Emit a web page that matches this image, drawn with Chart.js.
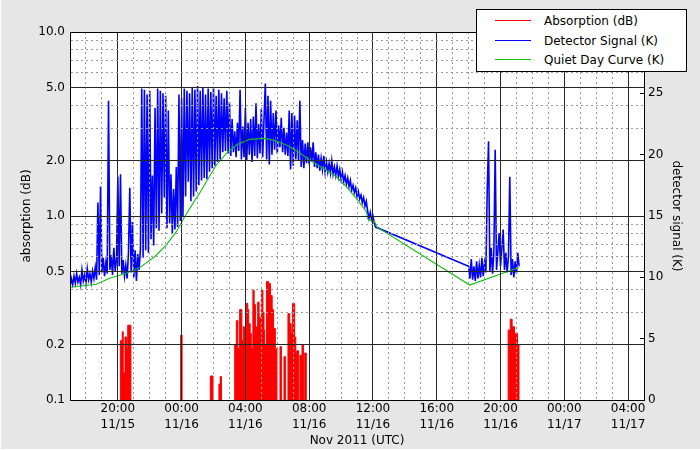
<!DOCTYPE html>
<html>
<head>
<meta charset="utf-8">
<title>Riometer absorption - Nov 2011</title>
<script src="https://cdn.jsdelivr.net/npm/chart.js@4.4.1/dist/chart.umd.min.js"></script>
<style>
  html, body { margin: 0; padding: 0; background: #e6e6e6; }
  #wrap { position: relative; width: 700px; height: 450px; }
  canvas { display: block; }
  #legend {
    position: absolute; left: 476px; top: 9px; width: 209px; height: 61px;
    background: #fff; border: 1px solid #000;
    font: 12px "DejaVu Sans", sans-serif; color: #000;
  }
  #legend .row { position: absolute; left: 0; height: 14px; line-height: 14px; white-space: nowrap; }
  #legend .swatch { position: absolute; left: 18px; top: 6px; width: 36px; height: 0; border-top: 1px solid; }
  #legend .text { position: absolute; left: 67px; top: 0; }
</style>
</head>
<body>
<div id="wrap">
  <canvas id="riometerChart" width="700" height="450"></canvas>
  <div id="legend"></div>
</div>
<script>
// x values are hours counted from 11/15 00:00 UTC
const xMin = 17, xMax = 53;
const absTicksMajor = [0.1, 0.2, 0.5, 1, 2, 5, 10];
const absTicksMinor = [0.3, 0.4, 0.6, 0.7, 0.8, 0.9, 3, 4, 6, 7, 8, 9];
const signalMin = 0, signalMax = 30, signalStep = 5;

const seriesLabels = ['Absorption (dB)', 'Detector Signal (K)', 'Quiet Day Curve (K)'];
const seriesColors = ['#ff0000', '#0000ff', '#10c010'];

// absorption (dB), each value holds until the next time; 0.01 = nothing above 0.1 dB
const absorptionTimes = [
  17.00,
  20.16, 20.28, 20.34, 20.45, 20.55, 20.62, 20.82,
  23.94, 24.03,
  25.80, 25.97,
  26.34, 26.42, 26.50,
  27.33, 27.43, 27.53, 27.64, 27.78, 27.87, 27.95, 28.06, 28.15, 28.21,
  28.30, 28.37, 28.47, 28.55, 28.63, 28.77, 28.86, 28.96, 29.00, 29.10,
  29.17, 29.21, 29.32, 29.45, 29.57, 29.68, 29.77, 29.88, 29.98,
  30.17, 30.26, 30.42, 30.51, 30.67, 30.78, 30.87, 30.95, 31.09, 31.16,
  31.22, 31.34, 31.42, 31.55, 31.64, 31.72, 31.82,
  44.48, 44.61, 44.73, 44.88, 44.94, 45.07, 45.16,
  53.00
];
const absorptionValues = [
  0.01,
  0.21, 0.235, 0.14, 0.22, 0.19, 0.255, 0.01,
  0.225, 0.01,
  0.135, 0.01,
  0.122, 0.134, 0.01,
  0.20, 0.27, 0.19, 0.31, 0.21, 0.25, 0.20, 0.335, 0.31, 0.26,
  0.23, 0.19, 0.395, 0.33, 0.25, 0.34, 0.28, 0.22, 0.395, 0.30,
  0.24, 0.20, 0.44, 0.43, 0.37, 0.31, 0.245, 0.19, 0.01,
  0.195, 0.01, 0.172, 0.01, 0.295, 0.26, 0.23, 0.335, 0.22, 0.18,
  0.185, 0.01, 0.175, 0.20, 0.01, 0.18, 0.01,
  0.24, 0.275, 0.25, 0.01, 0.23, 0.20, 0.01,
  0.01
];

// detector signal (K), one sample every 5 minutes
const signalStartA = 17;   // 11/15 17:00
const signalA = [
  9.2, 9.9, 9.4, 10.1, 9.5, 10.3, 9.6, 10.0, 9.4, 10.6, 9.7, 10.2, 9.5, 10.7, 9.8, 10.3, 9.6, 10.5, 9.9, 10.8, 9.8,
  16.1, 10.2, 17.4, 10.4, 11.6, 10.1, 11.2, 10.3, 24.4,
  10.6, 11.8, 10.2, 12.4, 10.5, 11.5, 18.2, 10.9, 18.4, 10.3, 11.4, 10.1,
  11.0, 9.9, 12.0, 17.3, 10.4, 14.5, 10.0, 12.2, 9.7, 11.9, 10.6, 12.3,
  25.4, 11.6, 25.3, 12.2, 24.9, 12.0, 25.2, 13.1, 18.3, 12.6, 23.8, 14.0, 25.4, 13.8, 25.2, 15.2,
  25.0, 16.5, 24.8, 14.0, 23.6, 14.4, 18.4, 13.6, 17.2, 13.9, 19.0, 14.1, 24.9, 14.6, 24.6, 14.9,
  25.4, 16.6, 25.2, 17.8, 25.0, 16.2, 25.5, 16.6, 25.3, 17.0, 25.6, 17.5, 25.2, 17.9,
  25.5, 18.1, 24.9, 18.0, 25.4, 18.6, 25.1, 18.9, 25.5, 19.1, 24.8, 19.4, 25.3, 19.6,
  25.0, 20.2, 24.6, 20.3, 25.2, 20.1, 24.3, 19.9, 22.9, 20.2, 21.9, 19.8, 22.6, 20.3,
  25.3, 19.6, 22.3, 19.8, 23.8, 19.5, 22.6, 20.0, 22.9, 19.4, 23.1, 19.9, 24.2, 19.7, 22.5, 20.1,
  23.7, 19.8, 22.8, 25.8, 19.6, 24.8, 19.2, 24.4, 20.0, 23.4,
  20.4, 23.6, 20.1, 22.4, 20.6, 23.0, 20.2, 22.2, 20.0, 21.8, 19.9,
  23.6, 18.8, 23.4, 19.1, 23.2, 19.6, 22.8, 19.5, 24.4,
  19.0, 21.2, 18.9, 20.9, 19.3, 21.0, 19.2, 20.6, 19.4, 21.0, 19.0, 20.2,
  18.9, 20.0, 18.7, 19.7, 18.8, 19.9, 18.6, 19.4,
  18.6, 19.3, 18.5, 19.5, 18.4, 19.0, 18.3, 19.1, 18.2, 18.8,
  18.0, 18.6, 17.8, 18.3, 17.6, 18.1, 17.4,
  17.9, 17.1, 17.5, 16.9, 17.3, 16.6, 17.0, 16.4,
  16.7, 16.1, 16.5, 15.8, 16.2,
  15.4, 14.8, 15.3, 14.7, 15.0, 14.4, 14.1
];
const signalStartB = 42;   // 11/16 18:00
const signalB = [
  10.9, 9.9, 11.5, 9.8, 10.9, 9.7, 11.3, 9.9, 11.0, 10.0, 11.6, 10.1, 11.2, 10.4,
  17.1, 21.1, 10.5, 12.4, 10.3, 12.0, 20.4, 10.6, 12.1, 13.6, 10.9, 12.3, 13.9,
  10.6, 12.0, 10.4, 11.7, 18.2, 10.2, 11.5, 10.0, 11.3, 10.3, 12.0, 10.9
];

// quiet day curve (K)
const quietTimes = [
  17.00, 18.65, 19.48, 20.53, 21.37, 22.31, 23.04, 23.67, 24.19, 24.71, 25.13, 25.55,
  26.18, 26.81, 27.43, 28.27, 29.21, 29.94, 30.57, 31.30, 32.03, 32.87, 33.71, 34.33,
  34.96, 35.59, 35.69, 36.11, 36.22, 42.07, 45.14
];
const quietValues = [
  9.19, 9.43, 9.92, 10.33, 10.79, 11.68, 12.64, 13.72, 14.94, 16.03, 16.85, 17.80,
  19.16, 20.11, 20.79, 21.25, 21.33, 21.11, 20.79, 20.24, 19.57, 18.89, 18.20, 17.39,
  16.44, 15.35, 14.73, 14.54, 14.13, 9.37, 10.80
];

const majorGrid = '#262626';
const minorGrid = '#999999';
const minorDash = [2, 3];

function hourLabel(h) {
  const hh = String(h % 24).padStart(2, '0') + ':00';
  return [hh, '11/' + (15 + Math.floor(h / 24))];
}

const absorptionData = absorptionTimes.map((t, k) => ({ x: t, y: absorptionValues[k] }));
const signalData = signalA.map((v, k) => ({ x: signalStartA + k / 12, y: v }))
  .concat(signalB.map((v, k) => ({ x: signalStartB + k / 12, y: v })));
const quietData = quietTimes.map((t, k) => ({ x: t, y: quietValues[k] }));

// legend box, top right like the original
const legendEl = document.getElementById('legend');
seriesLabels.forEach((label, k) => {
  const row = document.createElement('div');
  row.className = 'row';
  row.style.top = (4 + k * 19.7) + 'px';
  row.innerHTML = '<span class="swatch"></span><span class="text"></span>';
  row.querySelector('.swatch').style.borderTopColor = seriesColors[k];
  row.querySelector('.text').textContent = label;
  legendEl.appendChild(row);
});

// grey paper, white plot area and black frame
const paper = {
  id: 'paper',
  beforeDraw(chart) {
    const { ctx, chartArea: a, width, height } = chart;
    ctx.save();
    ctx.fillStyle = '#e6e6e6';
    ctx.fillRect(0, 0, width, height);
    ctx.fillStyle = '#ffffff';
    ctx.fillRect(0, 0, 1, height);
    ctx.fillRect(0, height - 1, width, 1);
    ctx.fillRect(a.left, a.top, a.right - a.left, a.bottom - a.top);
    ctx.restore();
  },
  afterDraw(chart) {
    const { ctx, chartArea: a } = chart;
    ctx.save();
    ctx.strokeStyle = '#000';
    ctx.lineWidth = 1;
    ctx.setLineDash([]);
    ctx.strokeRect(a.left + 0.5, a.top + 0.5, a.right - a.left, a.bottom - a.top);
    ctx.restore();
  }
};

Chart.defaults.font.family = '"DejaVu Sans", sans-serif';
Chart.defaults.font.size = 12;
Chart.defaults.color = '#000';

new Chart(document.getElementById('riometerChart'), {
  type: 'line',
  data: {
    datasets: [
      { label: seriesLabels[0], data: absorptionData, yAxisID: 'y', borderColor: seriesColors[0], backgroundColor: seriesColors[0],
        borderWidth: 1, pointRadius: 0, stepped: true, fill: 'start', order: 3 },
      { label: seriesLabels[1], data: signalData, yAxisID: 'y2', borderColor: seriesColors[1], borderWidth: 1.6,
        pointRadius: 0, fill: false, order: 2 },
      { label: seriesLabels[2], data: quietData, yAxisID: 'y2', borderColor: seriesColors[2], borderWidth: 1.1,
        pointRadius: 0, fill: false, order: 1 }
    ]
  },
  options: {
    responsive: false,
    animation: false,
    events: [],
    layout: { padding: { top: 32, left: 0, right: 0, bottom: 0 } },
    plugins: { legend: { display: false }, tooltip: { enabled: false } },
    scales: {
      x: {
        type: 'linear', min: xMin, max: xMax,
        ticks: {
          stepSize: 1, autoSkip: false, maxRotation: 0, padding: 1,
          font: { size: 12, lineHeight: 1.3 },
          callback: (v) => (v % 4 === 0 ? hourLabel(v) : '')
        },
        grid: {
          z: 1, drawTicks: false,
          color: (c) => (c.tick && c.tick.value % 4 === 0 ? majorGrid : minorGrid)
        },
        border: { z: 1, color: '#000', dash: (c) => (c.tick && c.tick.value % 4 !== 0 ? minorDash : []) },
        title: { display: true, text: 'Nov 2011 (UTC)', padding: { top: 0, bottom: 2 } },
        afterFit: (s) => { s.height = 50; }
      },
      y: {
        type: 'logarithmic', position: 'left', min: 0.1, max: 10,
        afterBuildTicks: (s) => {
          s.ticks = absTicksMajor.concat(absTicksMinor).sort((a, b) => a - b).map((v) => ({ value: v }));
        },
        ticks: {
          padding: 5, autoSkip: false,
          callback: (v) => (absTicksMajor.includes(v) ? v.toFixed(1) : '')
        },
        grid: {
          z: 1, drawTicks: false,
          color: (c) => (c.tick && absTicksMajor.includes(c.tick.value) ? majorGrid : minorGrid)
        },
        border: { z: 1, color: '#000', dash: (c) => (c.tick && !absTicksMajor.includes(c.tick.value) ? minorDash : []) },
        title: { display: true, text: 'absorption (dB)', padding: { top: 20, bottom: 0 } },
        afterFit: (s) => { s.width = 70; }
      },
      y2: {
        type: 'linear', position: 'right', min: signalMin, max: signalMax,
        ticks: {
          stepSize: signalStep, padding: 8,
          callback: (v) => (v === signalMax ? '' : v)
        },
        grid: { drawOnChartArea: false, drawTicks: true, tickLength: -4, tickColor: '#000' },
        border: { color: '#000' },
        title: { display: true, text: 'detector signal (K)', padding: { top: 17, bottom: 0 } },
        afterFit: (s) => { s.width = 56; }
      }
    }
  },
  plugins: [paper]
});
</script>
</body>
</html>
